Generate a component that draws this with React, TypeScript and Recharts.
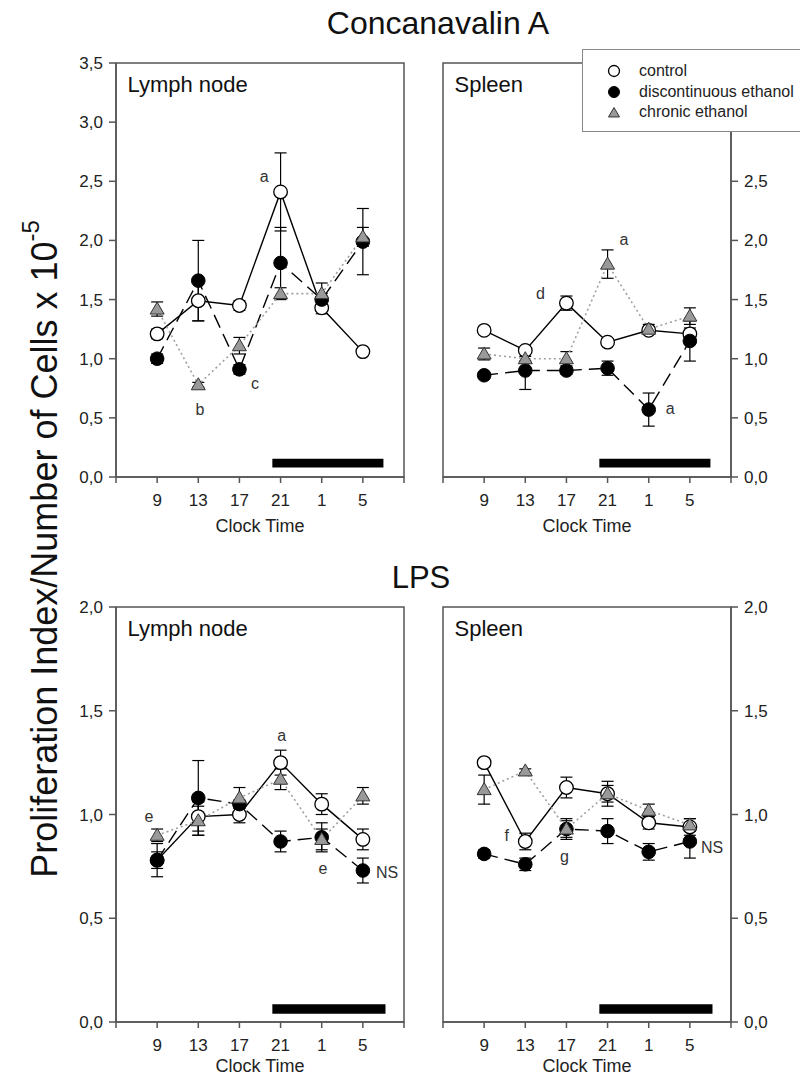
import React from 'react'
import { LineChart, Line, XAxis, YAxis, ErrorBar, ReferenceArea, ReferenceDot, Legend, Label } from 'recharts'

const FONT = '"Liberation Sans", Arial, Helvetica, sans-serif'
const AXIS = '#555'
const INK = '#222'

// clock time categories (x positions 1..6, axis runs 0..7)
const CLOCK = ['9', '13', '17', '21', '1', '5']
const X_TICKS = [0, 1, 2, 3, 4, 5, 6, 7]

const CONA_TICKS = [0, 0.5, 1, 1.5, 2, 2.5, 3, 3.5]
// right-hand ConA axis: 3,0 and 3,5 sit under the legend box
const CONA_TICKS_RIGHT = [0, 0.5, 1, 1.5, 2, 2.5]
const LPS_TICKS = [0, 0.5, 1, 1.5, 2]

// Concanavalin A - lymph node
const CONA_LN_CTRL = [1.21, 1.49, 1.45, 2.41, 1.43, 1.06]
const CONA_LN_CTRL_ERR = [0.04, 0.17, 0.04, 0.33, 0.05, 0.02]
const CONA_LN_DISC = [1.0, 1.66, 0.91, 1.81, 1.5, 1.99]
const CONA_LN_DISC_ERR = [0.04, 0.34, 0.04, 0.3, 0.05, 0.28]
const CONA_LN_CHRON = [1.42, 0.78, 1.11, 1.55, 1.55, 2.03]
const CONA_LN_CHRON_ERR = [0.06, 0.02, 0.07, 0.05, 0.09, 0.08]

// Concanavalin A - spleen
const CONA_SP_CTRL = [1.24, 1.07, 1.47, 1.14, 1.24, 1.21]
const CONA_SP_CTRL_ERR = [0.03, 0.02, 0.06, 0.03, 0.03, 0.05]
const CONA_SP_DISC = [0.86, 0.9, 0.9, 0.92, 0.57, 1.15]
const CONA_SP_DISC_ERR = [0.02, 0.16, 0.03, 0.06, 0.14, 0.17]
const CONA_SP_CHRON = [1.04, 1.0, 1.0, 1.8, 1.25, 1.36]
const CONA_SP_CHRON_ERR = [0.05, 0.02, 0.06, 0.12, 0.04, 0.07]

// LPS - lymph node
const LPS_LN_CTRL = [0.78, 0.99, 1.0, 1.25, 1.05, 0.88]
const LPS_LN_CTRL_ERR = [0.04, 0.07, 0.04, 0.06, 0.05, 0.05]
const LPS_LN_DISC = [0.78, 1.08, 1.05, 0.87, 0.89, 0.73]
const LPS_LN_DISC_ERR = [0.08, 0.18, 0.02, 0.05, 0.07, 0.06]
const LPS_LN_CHRON = [0.9, 0.97, 1.08, 1.17, 0.88, 1.09]
const LPS_LN_CHRON_ERR = [0.03, 0.07, 0.05, 0.05, 0.05, 0.04]

// LPS - spleen
const LPS_SP_CTRL = [1.25, 0.87, 1.13, 1.1, 0.96, 0.94]
const LPS_SP_CTRL_ERR = [0.02, 0.04, 0.05, 0.06, 0.03, 0.04]
const LPS_SP_DISC = [0.81, 0.76, 0.93, 0.92, 0.82, 0.87]
const LPS_SP_DISC_ERR = [0.02, 0.03, 0.04, 0.06, 0.04, 0.08]
const LPS_SP_CHRON = [1.12, 1.21, 0.93, 1.1, 1.02, 0.95]
const LPS_SP_CHRON_ERR = [0.07, 0.01, 0.05, 0.04, 0.03, 0.03]

// dark phase bar [x1, x2, y1, y2]
const CONA_NIGHT = [3.8, 6.5, 0.08, 0.155]
const LPS_NIGHT = [3.8, 6.55, 0.04, 0.085]

// significance letters [x, y, text]
const CONA_LN_NOTES: [number, number, string][] = [[3.6, 2.54, 'a'], [2.04, 0.57, 'b'], [3.38, 0.79, 'c']]
const CONA_SP_NOTES: [number, number, string][] = [[2.37, 1.55, 'd'], [4.4, 2.01, 'a'], [5.52, 0.58, 'a']]
const LPS_LN_NOTES: [number, number, string][] = [[0.8, 0.99, 'e'], [4.03, 1.38, 'a'], [5.03, 0.74, 'e'], [6.59, 0.72, 'NS']]
const LPS_SP_NOTES: [number, number, string][] = [[1.55, 0.9, 'f'], [2.95, 0.8, 'g'], [6.54, 0.84, 'NS']]

const SERIES_ORDER = ['ctrl', 'disc', 'chron']

function buildRows(ctrl: number[], ctrlErr: number[], disc: number[], discErr: number[], chron: number[], chronErr: number[]) {
  return CLOCK.map((_, i) => ({
    idx: i + 1,
    ctrl: ctrl[i],
    ctrlErr: ctrlErr[i],
    disc: disc[i],
    discErr: discErr[i],
    chron: chron[i],
    chronErr: chronErr[i],
  }))
}

const comma = (v: number) => v.toFixed(1).replace('.', ',')

const OpenDot = ({ cx, cy, r = 6.8 }: any) => <circle cx={cx} cy={cy} r={r} fill="#fff" stroke="#000" strokeWidth={1.3} />
const FilledDot = ({ cx, cy, r = 6.8 }: any) => <circle cx={cx} cy={cy} r={r} fill="#000" stroke="#000" strokeWidth={1} />
const TriDot = ({ cx, cy, s = 7 }: any) => (
  <path d={`M${cx},${cy - s} L${cx + s},${cy + s * 0.72} L${cx - s},${cy + s * 0.72} Z`} fill="#999" stroke="#333" strokeWidth={1} />
)

function LegendBox({ payload }: any) {
  const items = [...(payload || [])].sort(
    (a: any, b: any) => SERIES_ORDER.indexOf(a.dataKey) - SERIES_ORDER.indexOf(b.dataKey)
  )
  return (
    <div
      style={{
        width: 232,
        height: 83,
        boxSizing: 'border-box',
        border: '1px solid #888',
        background: '#fff',
        paddingTop: 11,
        fontFamily: FONT,
        fontSize: 16,
        color: INK,
      }}
    >
      {items.map((entry: any) => (
        <div key={entry.dataKey} style={{ display: 'flex', alignItems: 'center', height: 20.5 }}>
          <svg width={14} height={14} style={{ marginLeft: 24 }}>
            {entry.dataKey === 'ctrl' && <OpenDot cx={7} cy={7} r={5.5} />}
            {entry.dataKey === 'disc' && <FilledDot cx={7} cy={7} r={5.5} />}
            {entry.dataKey === 'chron' && <TriDot cx={7} cy={8} s={5.5} />}
          </svg>
          <span style={{ marginLeft: 18, whiteSpace: 'nowrap' }}>{entry.value}</span>
        </div>
      ))}
    </div>
  )
}

interface PanelProps {
  left: number
  top: number
  plotH: number
  rows: ReturnType<typeof buildRows>
  yMax: number
  yTicks: number[]
  side: 'left' | 'right'
  title: string
  notes: [number, number, string][]
  night: number[]
  labelOffset: number
  legend?: boolean
}

const PLOT_W = 288

function Panel({ left, top, plotH, rows, yMax, yTicks, side, title, notes, night, labelOffset, legend }: PanelProps) {
  const tickStyle = { fontSize: 17, fill: INK, fontFamily: FONT }
  return (
    <div style={{ position: 'absolute', left: left - 60, top: top - 15 }}>
      <LineChart
        width={PLOT_W + 120}
        height={plotH + 80}
        data={rows}
        margin={{ top: 15, right: side === 'left' ? 60 : 0, bottom: 5, left: side === 'left' ? 0 : 60 }}
      >
        <XAxis
          type="number"
          dataKey="idx"
          domain={[0, 7]}
          ticks={X_TICKS}
          interval={0}
          tickFormatter={(v: number) => CLOCK[v - 1] ?? ''}
          tick={tickStyle}
          tickSize={6}
          tickMargin={11}
          stroke={AXIS}
          strokeWidth={1.5}
          height={60}
        >
          <Label value="Clock Time" position="insideBottom" offset={labelOffset} style={{ fontSize: 18, fill: INK, fontFamily: FONT }} />
        </XAxis>
        <YAxis
          type="number"
          orientation={side}
          domain={[0, yMax]}
          ticks={yTicks}
          interval={0}
          tickFormatter={comma}
          tick={tickStyle}
          tickSize={7}
          tickMargin={6}
          stroke={AXIS}
          strokeWidth={1.5}
          width={60}
        />
        <ReferenceArea x1={0} x2={7} y1={0} y2={yMax} fill="none" fillOpacity={0} stroke={AXIS} strokeWidth={1.5} ifOverflow="visible" />
        <ReferenceArea x1={night[0]} x2={night[1]} y1={night[2]} y2={night[3]} fill="#000" fillOpacity={1} stroke="none" />
        <ReferenceDot
          x={0.28}
          y={yMax * (1 - 29 / plotH)}
          r={0}
          ifOverflow="visible"
          shape={(p: any) => (
            <text x={p.cx} y={p.cy} fontSize={22} fill="#111" fontFamily={FONT}>
              {title}
            </text>
          )}
        />
        <Line
          name="control"
          dataKey="ctrl"
          stroke="#000"
          strokeWidth={1.4}
          dot={(p: any) => <OpenDot key={`c${p.index}`} cx={p.cx} cy={p.cy} />}
          activeDot={false}
          isAnimationActive={false}
        >
          <ErrorBar dataKey="ctrlErr" direction="y" width={6} stroke="#000" strokeWidth={1.2} />
        </Line>
        <Line
          name="discontinuous ethanol"
          dataKey="disc"
          stroke="#000"
          strokeWidth={1.4}
          strokeDasharray="14 7"
          dot={(p: any) => <FilledDot key={`d${p.index}`} cx={p.cx} cy={p.cy} />}
          activeDot={false}
          isAnimationActive={false}
        >
          <ErrorBar dataKey="discErr" direction="y" width={6} stroke="#000" strokeWidth={1.2} />
        </Line>
        <Line
          name="chronic ethanol"
          dataKey="chron"
          stroke="#a0a0a0"
          strokeWidth={1.6}
          strokeDasharray="2 3"
          dot={(p: any) => <TriDot key={`t${p.index}`} cx={p.cx} cy={p.cy} />}
          activeDot={false}
          isAnimationActive={false}
        >
          <ErrorBar dataKey="chronErr" direction="y" width={6} stroke="#000" strokeWidth={1.2} />
        </Line>
        {notes.map(([x, y, text], i) => (
          <ReferenceDot
            key={i}
            x={x}
            y={y}
            r={0}
            ifOverflow="visible"
            shape={(p: any) => (
              <text x={p.cx} y={p.cy} dy="0.35em" textAnchor="middle" fontSize={16} fill="#333" fontFamily={FONT}>
                {text}
              </text>
            )}
          />
        ))}
        {legend && (
          <Legend
            layout="horizontal"
            verticalAlign="middle"
            align="center"
            content={<LegendBox />}
            wrapperStyle={{ left: 199, top: 1, width: 232, height: 83 }}
          />
        )}
      </LineChart>
    </div>
  )
}

export default function App() {
  return (
    <div style={{ position: 'absolute', left: 0, top: 0, width: 800, height: 1078, overflow: 'hidden', background: '#fff', fontFamily: FONT }}>
      <div style={{ position: 'absolute', left: 0, width: 876, top: 5, textAlign: 'center', fontSize: 32, color: '#111' }}>Concanavalin A</div>
      <div style={{ position: 'absolute', left: 0, width: 842, top: 560, textAlign: 'center', fontSize: 31, color: '#111' }}>LPS</div>
      <svg width={90} height={1078} style={{ position: 'absolute', left: 0, top: 0 }}>
        <text
          transform="translate(44,549) rotate(-90)"
          textAnchor="middle"
          dominantBaseline="central"
          fontSize={36}
          fill="#111"
          fontFamily={FONT}
        >
          Proliferation Index/Number of Cells x 10
          <tspan fontSize={24} dy={-14}>-5</tspan>
        </text>
      </svg>

      <Panel
        left={116}
        top={63}
        plotH={414}
        rows={buildRows(CONA_LN_CTRL, CONA_LN_CTRL_ERR, CONA_LN_DISC, CONA_LN_DISC_ERR, CONA_LN_CHRON, CONA_LN_CHRON_ERR)}
        yMax={3.5}
        yTicks={CONA_TICKS}
        side="left"
        title="Lymph node"
        notes={CONA_LN_NOTES}
        night={CONA_NIGHT}
        labelOffset={5}
      />
      <Panel
        left={443}
        top={63}
        plotH={414}
        rows={buildRows(CONA_SP_CTRL, CONA_SP_CTRL_ERR, CONA_SP_DISC, CONA_SP_DISC_ERR, CONA_SP_CHRON, CONA_SP_CHRON_ERR)}
        yMax={3.5}
        yTicks={CONA_TICKS_RIGHT}
        side="right"
        title="Spleen"
        notes={CONA_SP_NOTES}
        night={CONA_NIGHT}
        labelOffset={5}
        legend
      />
      <Panel
        left={116}
        top={607}
        plotH={415}
        rows={buildRows(LPS_LN_CTRL, LPS_LN_CTRL_ERR, LPS_LN_DISC, LPS_LN_DISC_ERR, LPS_LN_CHRON, LPS_LN_CHRON_ERR)}
        yMax={2}
        yTicks={LPS_TICKS}
        side="left"
        title="Lymph node"
        notes={LPS_LN_NOTES}
        night={LPS_NIGHT}
        labelOffset={10}
      />
      <Panel
        left={443}
        top={607}
        plotH={415}
        rows={buildRows(LPS_SP_CTRL, LPS_SP_CTRL_ERR, LPS_SP_DISC, LPS_SP_DISC_ERR, LPS_SP_CHRON, LPS_SP_CHRON_ERR)}
        yMax={2}
        yTicks={LPS_TICKS}
        side="right"
        title="Spleen"
        notes={LPS_SP_NOTES}
        night={LPS_NIGHT}
        labelOffset={10}
      />
    </div>
  )
}
